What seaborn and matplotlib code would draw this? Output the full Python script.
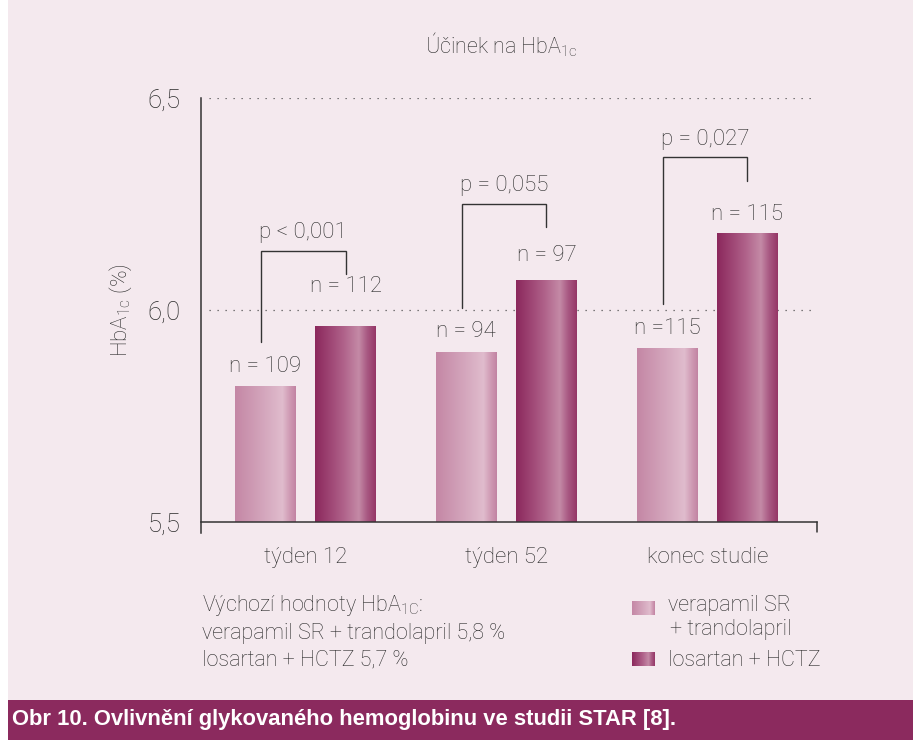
import numpy as np
import pandas as pd
import matplotlib
matplotlib.use("Agg")
import matplotlib.pyplot as plt
from matplotlib.colors import LinearSegmentedColormap
from matplotlib.patches import Rectangle
import seaborn as sns

# ---- data -------------------------------------------------------------
categories = ["týden 12", "týden 52", "konec studie"]
groups = ["verapamil SR\n+ trandolapril", "losartan + HCTZ"]
verapamil = [5.82, 5.90, 5.91]
losartan = [5.96, 6.07, 6.18]
n_verapamil = ["n = 109", "n = 94", "n =115"]
n_losartan = ["n = 112", "n = 97", "n = 115"]
p_values = ["p < 0,001", "p = 0,055", "p = 0,027"]
y_ticks = [5.5, 6.0, 6.5]
y_tick_labels = ["5,5", "6,0", "6,5"]
baseline_lines = ["Výchozí hodnoty HbA$_{\\mathregular{1C}}$:",
                  "verapamil SR + trandolapril 5,8 %",
                  "losartan + HCTZ 5,7 %"]
title = "Účinek na HbA$_{\\mathregular{1c}}$"
ylabel = "HbA$_{\\mathregular{1c}}$ (%)"
caption = "Obr 10. Ovlivnění glykovaného hemoglobinu ve studii STAR [8]."

df = pd.DataFrame({
    "období": categories * 2,
    "léčba": [groups[0]] * 3 + [groups[1]] * 3,
    "HbA1c": verapamil + losartan,
})

# ---- style ------------------------------------------------------------
sns.set_style("white")
plt.rcParams["font.family"] = ["Roboto", "DejaVu Sans"]
plt.rcParams["font.weight"] = "light"
plt.rcParams["axes.labelweight"] = "light"
plt.rcParams["mathtext.fontset"] = "custom"
plt.rcParams["mathtext.rm"] = "Roboto:light"
TXT = "#2a2a2a"
PANEL = "#f4e9ee"
BAND = "#8b2a5e"
FS = 16

light_cmap = LinearSegmentedColormap.from_list("light", [
    (0.0, "#c487a5"), (0.5, "#d5a8be"), (0.78, "#e0bccd"),
    (0.9, "#cf9ab4"), (1.0, "#c283a2")])
dark_cmap = LinearSegmentedColormap.from_list("dark", [
    (0.0, "#8b285c"), (0.45, "#ae5f88"), (0.72, "#c48aa6"),
    (0.86, "#a85882"), (1.0, "#953666")])
cmaps = [light_cmap, dark_cmap]
palette = {groups[0]: "#d5a8be", groups[1]: "#ae5f88"}

W, H = 913, 740
fig = plt.figure(figsize=(W / 100, H / 100), dpi=100, facecolor="white")

# full-figure layer in pixel units for panel, caption band and side notes
ov = fig.add_axes([0, 0, 1, 1])
ov.set_zorder(1)
ov.add_patch(Rectangle((8, 0), W - 8, 700, facecolor=PANEL, edgecolor="none"))
ov.add_patch(Rectangle((8, 700), W - 8, 40, facecolor=BAND, edgecolor="none"))

# ---- main axes --------------------------------------------------------
ax = fig.add_axes([201 / W, (H - 522) / H, (817 - 201) / W, 424 / H])
ax.set_zorder(2)
ax.set_facecolor("none")

sns.barplot(data=df, x="období", y="HbA1c", hue="léčba", order=categories,
            hue_order=groups, palette=palette, width=0.8, gap=0.25,
            linewidth=0, legend=False, ax=ax)

Y0, Y1 = 5.5, 6.5
grad = np.linspace(0, 1, 256).reshape(1, -1)
centers = []
for cont, cmap in zip(ax.containers, cmaps):
    cs = []
    for patch in cont.patches:
        x0, w, h = patch.get_x(), patch.get_width(), patch.get_height()
        # horizontal shading painted over the visible part of the bar
        ax.imshow(grad, cmap=cmap, aspect="auto", origin="lower",
                  extent=(x0, x0 + w, Y0, h), interpolation="bilinear",
                  zorder=patch.get_zorder())
        patch.set_facecolor("none")
        patch.set_edgecolor("none")
        cs.append((x0 + w / 2, h))
    centers.append(cs)

ax.set_xlim(-0.519, 2.546)
ax.set_ylim(Y0, Y1)

# dotted reference lines
for yv in (6.0, 6.5):
    ax.axhline(yv, xmin=0.013, xmax=(813 - 201) / 616, color="#555555",
               lw=0.9, ls=(0, (1, 5.4)), zorder=0.5)

# n labels above bars
n_offsets = [[14, 15, 14], [29, 18, 14]]
for cs, labels, offs in zip(centers, [n_verapamil, n_losartan], n_offsets):
    for (cx, h), lab, off in zip(cs, labels, offs):
        ax.annotate(lab, (cx, h), xytext=(0, off), textcoords="offset points",
                    ha="center", va="center", fontsize=FS, color=TXT)

# significance brackets
for (c1, h1), (c2, h2), p in zip(centers[0], centers[1], p_values):
    top = h2 + 0.18
    xl = c1 - 0.02
    ax.plot([xl, xl, c2, c2], [h1 + 0.105, top, top, h2 + 0.125],
            color="#333333", lw=1.0, solid_joinstyle="miter", zorder=3)
    ax.annotate(p, ((xl + c2) / 2, top), xytext=(0, 13),
                textcoords="offset points", ha="center", va="center",
                fontsize=FS, color=TXT)

# axes frame
for side in ("top", "right"):
    ax.spines[side].set_visible(False)
for side in ("left", "bottom"):
    ax.spines[side].set_color("#333333")
    ax.spines[side].set_linewidth(1.1)
ax.spines["left"].set_bounds(Y0 - 11 / 424, Y1)
ax.plot([1, 1], [0, -10 / 424], transform=ax.transAxes, color="#333333",
        lw=1.1, clip_on=False)

ax.set_yticks(y_ticks)
ax.set_yticklabels(y_tick_labels)
ax.tick_params(axis="y", length=6.5, width=1.1, color="#333333", pad=8,
               labelsize=18.5, labelcolor=TXT)
ax.tick_params(axis="x", length=0, pad=18, labelsize=FS, labelcolor=TXT)
ax.set_xlabel("")
ax.set_ylabel(ylabel, fontsize=16, color=TXT, labelpad=10)

# ---- surrounding texts -----------------------------------------------
ov.text(501, 45, title, ha="center", va="center", fontsize=15.5, color=TXT)

for i, line in enumerate(baseline_lines):
    ov.text(202, 606 + i * 27, line, ha="left", va="center", fontsize=15.5,
            color=TXT)

# legend keys with the same shading as the bars
for (ytop, cmap) in zip((601, 652), cmaps):
    ov.imshow(grad, cmap=cmap, aspect="auto", extent=(632, 655, ytop + 14, ytop),
              interpolation="bilinear", zorder=3)
ov.text(668, 606, "verapamil SR", ha="left", va="center", fontsize=15.5, color=TXT)
ov.text(670, 630, "+ trandolapril", ha="left", va="center", fontsize=15.5, color=TXT)
ov.text(668, 660, "losartan + HCTZ", ha="left", va="center", fontsize=15.5, color=TXT)

ov.text(12, 720, caption, ha="left", va="center", fontsize=15.8,
        fontweight="bold", color="white",
        family=["Liberation Sans Narrow", "Liberation Sans", "DejaVu Sans"])

ov.set_xlim(0, W)
ov.set_ylim(H, 0)
ov.axis("off")

fig.savefig("out.png", dpi=100, facecolor="white")
